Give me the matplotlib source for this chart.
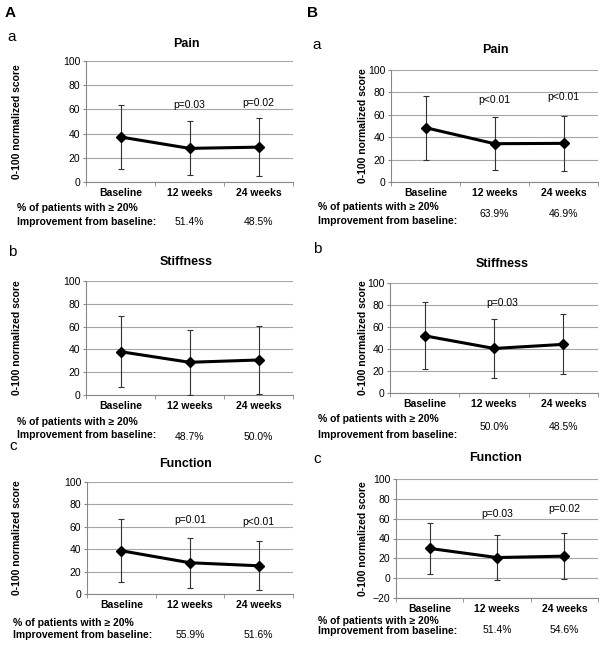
import matplotlib
matplotlib.use("Agg")
import matplotlib.pyplot as plt
import matplotlib.transforms as mtransforms

plt.rcParams['font.family'] = ['Liberation Sans', 'DejaVu Sans']

W, H = 604, 647

categories = ["Baseline", "12 weeks", "24 weeks"]

# mean and SD
a_pain_mean = [37.2, 27.8, 28.8]
a_pain_sd = [26.8, 22.3, 24.2]
a_stiff_mean = [38.0, 28.7, 30.7]
a_stiff_sd = [31.0, 28.7, 29.5]
a_func_mean = [38.6, 27.9, 25.2]
a_func_sd = [28.0, 22.2, 21.7]

b_pain_mean = [48.5, 34.2, 34.5]
b_pain_sd = [28.5, 23.8, 24.6]
b_stiff_mean = [52.0, 40.5, 44.2]
b_stiff_sd = [30.3, 26.6, 27.2]
b_func_mean = [30.0, 20.8, 22.2]
b_func_sd = [25.9, 22.3, 22.9]

# p-values shown above 12 and 24 weeks ("" = none)
a_pain_p = ["", "p=0.03", "p=0.02"]
a_stiff_p = ["", "", ""]
a_func_p = ["", "p=0.01", "p<0.01"]
b_pain_p = ["", "p<0.01", "p<0.01"]
b_stiff_p = ["", "p=0.03", ""]
b_func_p = ["", "p=0.03", "p=0.02"]

# % of patients with >= 20% improvement
a_pain_pct = ["51.4%", "48.5%"]
a_stiff_pct = ["48.7%", "50.0%"]
a_func_pct = ["55.9%", "51.6%"]
b_pain_pct = ["63.9%", "46.9%"]
b_stiff_pct = ["50.0%", "48.5%"]
b_func_pct = ["51.4%", "54.6%"]

fig = plt.figure(figsize=(W / 100, H / 100), dpi=100)


def fx(x):
    return x / W


def fy(y):
    return 1 - y / H


def panel(box, title, mean, sd, pvals, p_y, pct, ylim, yticks,
          title_xy, letter_xy, letter, ylab_x, row_y, pct_y, pct_x, p_dx=0.0):
    left, top, right, bottom = box
    ax = fig.add_axes([fx(left), fy(bottom), fx(right - left), (bottom - top) / H])
    x = list(range(len(categories)))
    ax.errorbar(x, mean, yerr=sd, fmt='none', ecolor='#333333',
                elinewidth=0.8, capsize=2.5, capthick=0.8, zorder=3)
    ax.plot(x, mean, color='black', lw=2.2, marker='D', ms=5, zorder=4)
    ax.set_xlim(-0.5, 2.5)
    ax.set_ylim(*ylim)
    ax.set_yticks(yticks)
    ax.tick_params(axis='y', labelsize=7.5, length=2.5, color='#888888', pad=1.5)
    ax.set_xticks(x)
    ax.set_xticklabels(categories, fontweight='bold', fontsize=7.5)
    ax.set_xticks([-0.5, 0.5, 1.5, 2.5], minor=True)
    ax.tick_params(axis='x', which='major', length=0, pad=4)
    ax.tick_params(axis='x', which='minor', length=3, color='#888888')
    ax.grid(axis='y', color='#a6a6a6', lw=0.8)
    ax.set_axisbelow(True)
    for s in ['top', 'right']:
        ax.spines[s].set_visible(False)
    ax.spines['left'].set_color('#888888')
    ax.spines['bottom'].set_color('#888888')
    ax.spines['left'].set_linewidth(0.8)
    ax.spines['bottom'].set_linewidth(0.8)

    for i, p in enumerate(pvals):
        if p:
            ax.text(i + p_dx, p_y[i], p, ha='center', va='center', fontsize=7.5)

    fig.text(fx(ylab_x), fy((top + bottom) / 2), "0-100 normalized score",
             rotation=90, ha='center', va='center', fontsize=7.5, fontweight='bold')
    fig.text(fx(title_xy[0]), fy(title_xy[1]), title, ha='center', va='center',
             fontsize=9, fontweight='bold')
    fig.text(fx(letter_xy[0]), fy(letter_xy[1]), letter, ha='center', va='center',
             fontsize=11)

    fig.text(fx(pct_x), fy(row_y[0]), "% of patients with \u2265 20%",
             ha='left', va='center', fontsize=7.5, fontweight='bold')
    fig.text(fx(pct_x), fy(row_y[1]), "Improvement from baseline:",
             ha='left', va='center', fontsize=7.5, fontweight='bold')
    trans = mtransforms.blended_transform_factory(ax.transData, fig.transFigure)
    for i, t in enumerate(pct):
        ax.text(i + 1, fy(pct_y), t, transform=trans, ha='center', va='center',
                fontsize=7.5)
    return ax


panel((86, 61, 293, 182), "Pain", a_pain_mean, a_pain_sd, a_pain_p, [64, 64, 65],
      a_pain_pct, (0, 100), range(0, 101, 20), (186, 44), (12, 37), "a", 17,
      (208, 222), 222, 17)
panel((86, 281, 293, 395), "Stiffness", a_stiff_mean, a_stiff_sd, a_stiff_p, [0, 0, 0],
      a_stiff_pct, (0, 100), range(0, 101, 20), (186, 262), (12, 252), "b", 17,
      (422, 435), 437, 17)
panel((87, 482, 293, 594), "Function", a_func_mean, a_func_sd, a_func_p, [0, 66, 64],
      a_func_pct, (0, 100), range(0, 101, 20), (186, 464), (13, 446), "c", 17,
      (623, 635), 635, 13)

panel((391, 70, 598, 182), "Pain", b_pain_mean, b_pain_sd, b_pain_p, [0, 73, 76],
      b_pain_pct, (0, 100), range(0, 101, 20), (495, 50), (317, 45), "a", 363,
      (207, 221), 214, 318)
panel((390, 283, 598, 393), "Stiffness", b_stiff_mean, b_stiff_sd, b_stiff_p, [0, 82, 0],
      b_stiff_pct, (0, 100), range(0, 101, 20), (502, 264), (317, 249), "b", 363,
      (419, 435), 427, 318, p_dx=0.12)
panel((396, 479, 598, 598), "Function", b_func_mean, b_func_sd, b_func_p, [0, 65, 70],
      b_func_pct, (-20, 100), range(-20, 101, 20), (495, 458), (317, 459), "c", 363,
      (621, 631), 630, 318)

fig.text(fx(10), fy(13), "A", ha='center', va='center', fontsize=11, fontweight='bold')
fig.text(fx(312), fy(13), "B", ha='center', va='center', fontsize=11, fontweight='bold')

fig.savefig("out.png", dpi=100)
